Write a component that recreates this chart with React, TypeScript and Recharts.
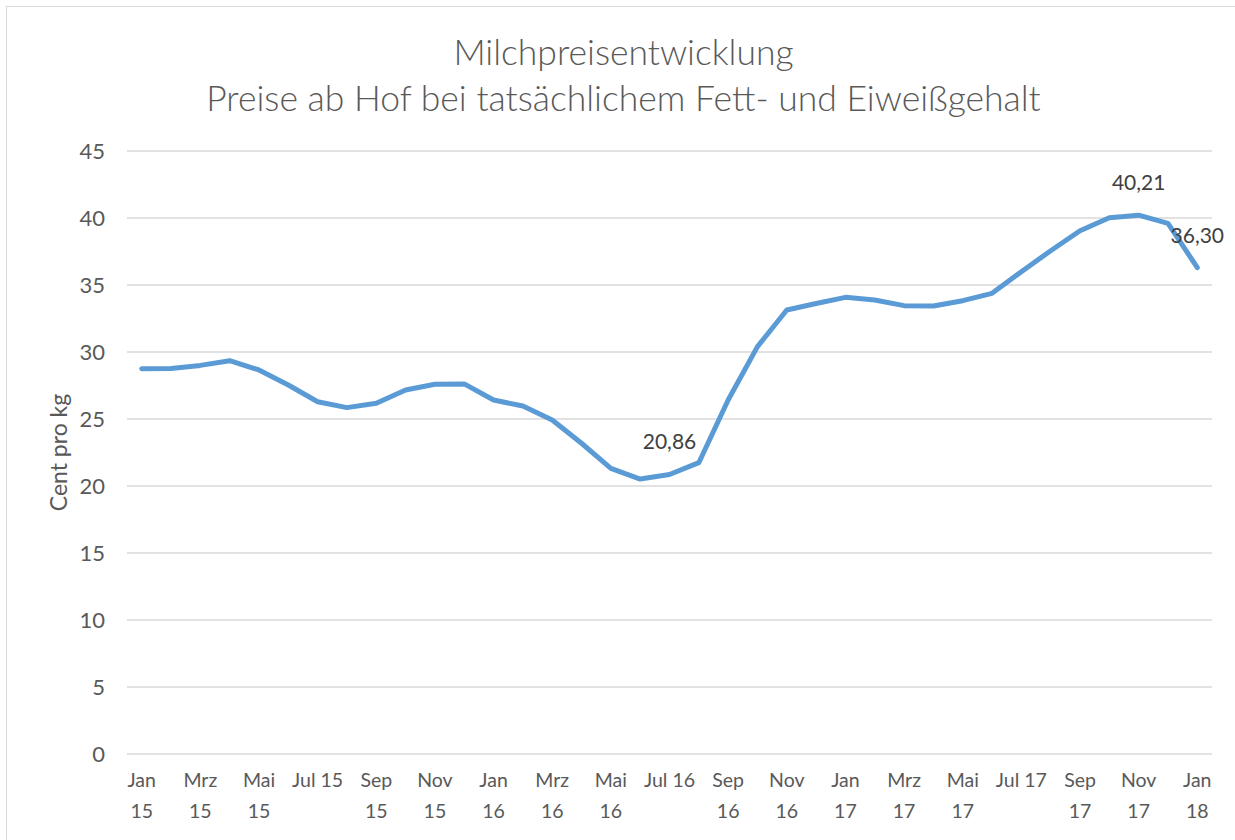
import React from 'react';
import { LineChart, Line, XAxis, YAxis, CartesianGrid, LabelList } from 'recharts';

const months: string[] = [
  'Jan 15', 'Feb 15', 'Mrz 15', 'Apr 15', 'Mai 15', 'Jun 15', 'Jul 15', 'Aug 15', 'Sep 15', 'Okt 15', 'Nov 15', 'Dez 15',
  'Jan 16', 'Feb 16', 'Mrz 16', 'Apr 16', 'Mai 16', 'Jun 16', 'Jul 16', 'Aug 16', 'Sep 16', 'Okt 16', 'Nov 16', 'Dez 16',
  'Jan 17', 'Feb 17', 'Mrz 17', 'Apr 17', 'Mai 17', 'Jun 17', 'Jul 17', 'Aug 17', 'Sep 17', 'Okt 17', 'Nov 17', 'Dez 17',
  'Jan 18',
];

const prices: number[] = [
  28.75, 28.77, 29.0, 29.35, 28.66, 27.54, 26.29, 25.85, 26.17, 27.16, 27.59, 27.62,
  26.42, 25.97, 24.93, 23.19, 21.32, 20.52, 20.86, 21.74, 26.42, 30.4, 33.13, 33.62,
  34.08, 33.88, 33.46, 33.43, 33.83, 34.38, 35.99, 37.56, 39.05, 40.02, 40.21, 39.6,
  36.3,
];

const labelledMonths: string[] = ['Jul 16', 'Nov 17', 'Jan 18'];
const yTicks: number[] = [0, 5, 10, 15, 20, 25, 30, 35, 40, 45];
const singleLineMonth = 'Jul';

const titleLines: string[] = ['Milchpreisentwicklung', 'Preise ab Hof bei tatsächlichem Fett- und Eiweißgehalt'];
const yAxisTitle = 'Cent pro kg';

const data = months.map((m, i) => ({ month: m, price: prices[i] }));

const FONT = 'Lato, "Open Sans", sans-serif';
const TEXT = '#595959';

const XTick = (props: any) => {
  const { x, y, payload } = props;
  const label: string = payload.value;
  const [mon, yr] = label.split(' ');
  const lines = mon === singleLineMonth ? [label] : [mon, yr];
  return (
    <g>
      {lines.map((l, i) => (
        <text key={i} x={x} y={y + 25} dy={i * 31} textAnchor="middle" fill={TEXT} fontSize={19.5} fontFamily={FONT}>
          {l}
        </text>
      ))}
    </g>
  );
};

const DataLabel = (props: any) => {
  const { x, y, value, index } = props;
  if (!labelledMonths.includes(months[index])) return null;
  return (
    <text x={x} y={y - 25} textAnchor="middle" fill="#404040" fontSize={21} fontFamily={FONT}>
      {Number(value).toFixed(2).replace('.', ',')}
    </text>
  );
};

const YLabel = (props: any) => {
  const { viewBox } = props;
  const cy = viewBox.y + viewBox.height / 2;
  const cx = 58;
  return (
    <text x={cx} y={cy} transform={`rotate(-90, ${cx}, ${cy})`} textAnchor="middle" dominantBaseline="central" fill={TEXT} fontSize={23} fontFamily={FONT}>
      {yAxisTitle}
    </text>
  );
};

export default function App() {
  return (
    <div style={{ position: 'absolute', left: 0, top: 0, width: 1235, height: 840, overflow: 'hidden', background: '#fff' }}>
      <div style={{ position: 'absolute', left: 6, top: 6, width: 1300, height: 900, borderLeft: '1.5px solid #d9d9d9', borderTop: '1.5px solid #d9d9d9' }} />
      <div style={{ position: 'absolute', left: 0, top: 29, width: 1247, textAlign: 'center', fontFamily: FONT, fontSize: 35.5, fontWeight: 300, color: TEXT, lineHeight: '46px' }}>
        {titleLines.map((t, i) => (
          <div key={i}>{t}</div>
        ))}
      </div>
      <div style={{ position: 'absolute', left: 0, top: 0 }}>
        <LineChart width={1235} height={840} data={data} margin={{ top: 151, right: 23, bottom: 0, left: 0 }}>
          <CartesianGrid vertical={false} stroke="#d9d9d9" strokeWidth={1.5} />
          <XAxis
            dataKey="month"
            interval={1}
            height={86}
            axisLine={false}
            tickLine={false}
            tick={<XTick />}
            padding={{ left: 14.7, right: 14.7 }}
          />
          <YAxis
            width={127}
            domain={[0, 45]}
            ticks={yTicks}
            axisLine={false}
            tickLine={false}
            tickSize={0}
            tickMargin={22}
            tick={{ fill: TEXT, fontSize: 22, fontFamily: FONT }}
            label={<YLabel />}
          />
          <Line
            type="linear"
            dataKey="price"
            stroke="#5b9bd5"
            strokeWidth={5}
            strokeLinejoin="round"
            strokeLinecap="round"
            dot={false}
            isAnimationActive={false}
          >
            <LabelList dataKey="price" content={<DataLabel />} />
          </Line>
        </LineChart>
      </div>
    </div>
  );
}
